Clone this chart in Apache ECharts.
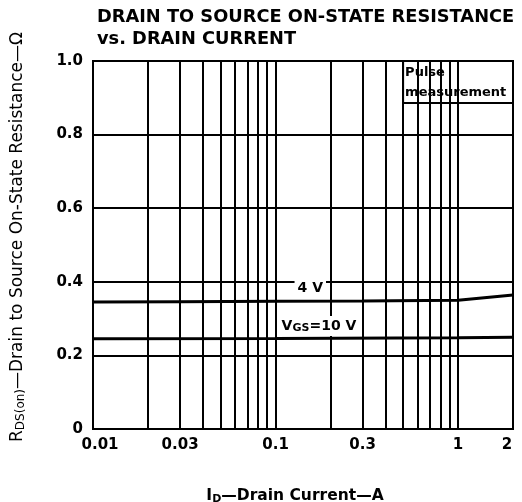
<!DOCTYPE html>
<html>
<head>
<meta charset="utf-8">
<script src="https://cdn.jsdelivr.net/npm/echarts@6/dist/echarts.min.js"></script>
<style>
  html, body { margin: 0; padding: 0; background: #fff; }
  #main { width: 522px; height: 502px; }
</style>
</head>
<body>
<div id="main"></div>
<script>
// --- data ---
var xGridLines = [0.02, 0.03, 0.04, 0.05, 0.06, 0.07, 0.08, 0.09, 0.1,
                  0.2, 0.3, 0.4, 0.5, 0.6, 0.7, 0.8, 0.9, 1];
var xTickLabels = [0.01, 0.03, 0.1, 0.3, 1, 2];

var id4V = [0.01, 0.03, 0.1, 0.3, 1, 2];
var rds4V = [0.345, 0.346, 0.347, 0.348, 0.350, 0.364];

var id10V = [0.01, 0.1, 1, 2];
var rds10V = [0.245, 0.246, 0.248, 0.249];

var pulseBox = [[0.5, 0.886], [2, 1.0]];
var label4V = [0.155, 0.383];
var labelVgs = [0.173, 0.28];

var FONT = 'DejaVu Sans';

function pairs(xs, ys) {
  return xs.map(function (x, i) { return [x, ys[i]]; });
}

// big text + lowered subscript
function richPair(size, subSize, weight) {
  return {
    b: { fontFamily: FONT, fontSize: size, fontWeight: weight, color: '#000', lineHeight: size + 2,
         textBorderWidth: 0 },
    s: { fontFamily: FONT, fontSize: subSize, fontWeight: weight, color: '#000', lineHeight: subSize,
         padding: [8, 0, 0, 0], verticalAlign: 'bottom', textBorderWidth: 0 }
  };
}

var myChart = echarts.init(document.getElementById('main'));

myChart.setOption({
  animation: false,
  backgroundColor: '#fff',
  title: {
    text: 'DRAIN TO SOURCE ON-STATE RESISTANCE\nvs. DRAIN CURRENT',
    left: 97,
    top: 6,
    padding: 0,
    textStyle: { fontFamily: FONT, fontSize: 17.8, fontWeight: 'bold', color: '#000', lineHeight: 22 }
  },
  grid: {
    left: 93, right: 9, top: 61, bottom: 73,
    outerBoundsMode: 'none',
    containLabel: false,
    show: true, borderColor: '#000', borderWidth: 2
  },
  xAxis: {
    type: 'log',
    logBase: 10,
    min: 0.01,
    max: 2,
    axisLine: { show: true, lineStyle: { color: '#000', width: 2 } },
    axisTick: { show: false },
    axisLabel: { show: false },
    splitLine: { show: false },
    name: '{b|I}{s|D}{b|\u2014Drain Current\u2014A}',
    nameLocation: 'middle',
    nameGap: 58,
    nameTextStyle: { padding: [0, 16, 0, 0], rich: richPair(15.5, 11, 'bold') }
  },
  yAxis: {
    type: 'value',
    min: 0,
    max: 1,
    interval: 0.2,
    axisLine: { show: true, lineStyle: { color: '#000', width: 2 } },
    axisTick: { show: false },
    axisLabel: {
      fontFamily: FONT, fontSize: 15, fontWeight: 'bold', color: '#000', margin: 10,
      formatter: function (v) { return v === 0 ? '0' : v.toFixed(1); }
    },
    splitLine: { show: true, lineStyle: { color: '#000', width: 2 } },
    name: '{b|R}{s|DS(on)}{b|\u2014Drain to Source On-State Resistance\u2014\u03a9}',
    nameLocation: 'middle',
    nameGap: 66,
    nameTextStyle: { padding: [0, 0, 0, 16], rich: richPair(17, 12, 'normal') }
  },
  series: [
    {
      // vertical log grid lines
      type: 'line',
      data: [],
      z: 1,
      markLine: {
        silent: true,
        symbol: 'none',
        label: { show: false },
        lineStyle: { color: '#000', width: 2, type: 'solid' },
        data: xGridLines.map(function (v) { return { xAxis: v }; })
      }
    },
    {
      type: 'line',
      data: [],
      z: 4,
      markArea: {
        silent: true,
        itemStyle: { color: '#fff', borderColor: '#000', borderWidth: 2 },
        label: {
          show: true,
          position: 'insideTopLeft',
          distance: 3,
          formatter: 'Pulse\nmeasurement',
          fontFamily: FONT, fontSize: 13, fontWeight: 'bold', color: '#000', lineHeight: 20
        },
        data: [[{ coord: pulseBox[0] }, { coord: pulseBox[1] }]]
      }
    },
    {
      name: '4 V',
      type: 'line',
      data: pairs(id4V, rds4V),
      symbol: 'none',
      z: 3,
      lineStyle: { color: '#000', width: 3 }
    },
    {
      name: '10 V',
      type: 'line',
      data: pairs(id10V, rds10V),
      symbol: 'none',
      z: 3,
      lineStyle: { color: '#000', width: 3 }
    },
    {
      // curve labels
      type: 'scatter',
      symbolSize: 0,
      z: 5,
      clip: false,
      silent: true,
      itemStyle: { color: '#000', opacity: 1 },
      label: {
        show: true,
        position: 'inside',
        backgroundColor: '#fff',
        padding: [2, 3, 2, 3],
        color: '#000',
        textBorderWidth: 0,
        rich: richPair(14, 11, 'bold')
      },
      data: [
        { value: label4V, label: { formatter: '{b|4 V}' } },
        { value: labelVgs, label: { formatter: '{b|V}{s|GS}{b|=10 V}' } }
      ]
    },
    {
      // x tick labels
      type: 'scatter',
      symbolSize: 0,
      z: 5,
      clip: false,
      silent: true,
      itemStyle: { color: '#000', opacity: 1 },
      data: xTickLabels.map(function (v, i) {
        var off = i === 0 ? [7, 0] : (i === xTickLabels.length - 1 ? [-6, 0] : [0, 0]);
        return { value: [v, 0], label: { offset: off } };
      }),
      label: {
        show: true,
        position: 'bottom',
        distance: 9,
        fontFamily: FONT, fontSize: 15, fontWeight: 'bold', color: '#000',
        formatter: function (p) { return String(p.value[0]); }
      }
    }
  ]
});
</script>
</body>
</html>
